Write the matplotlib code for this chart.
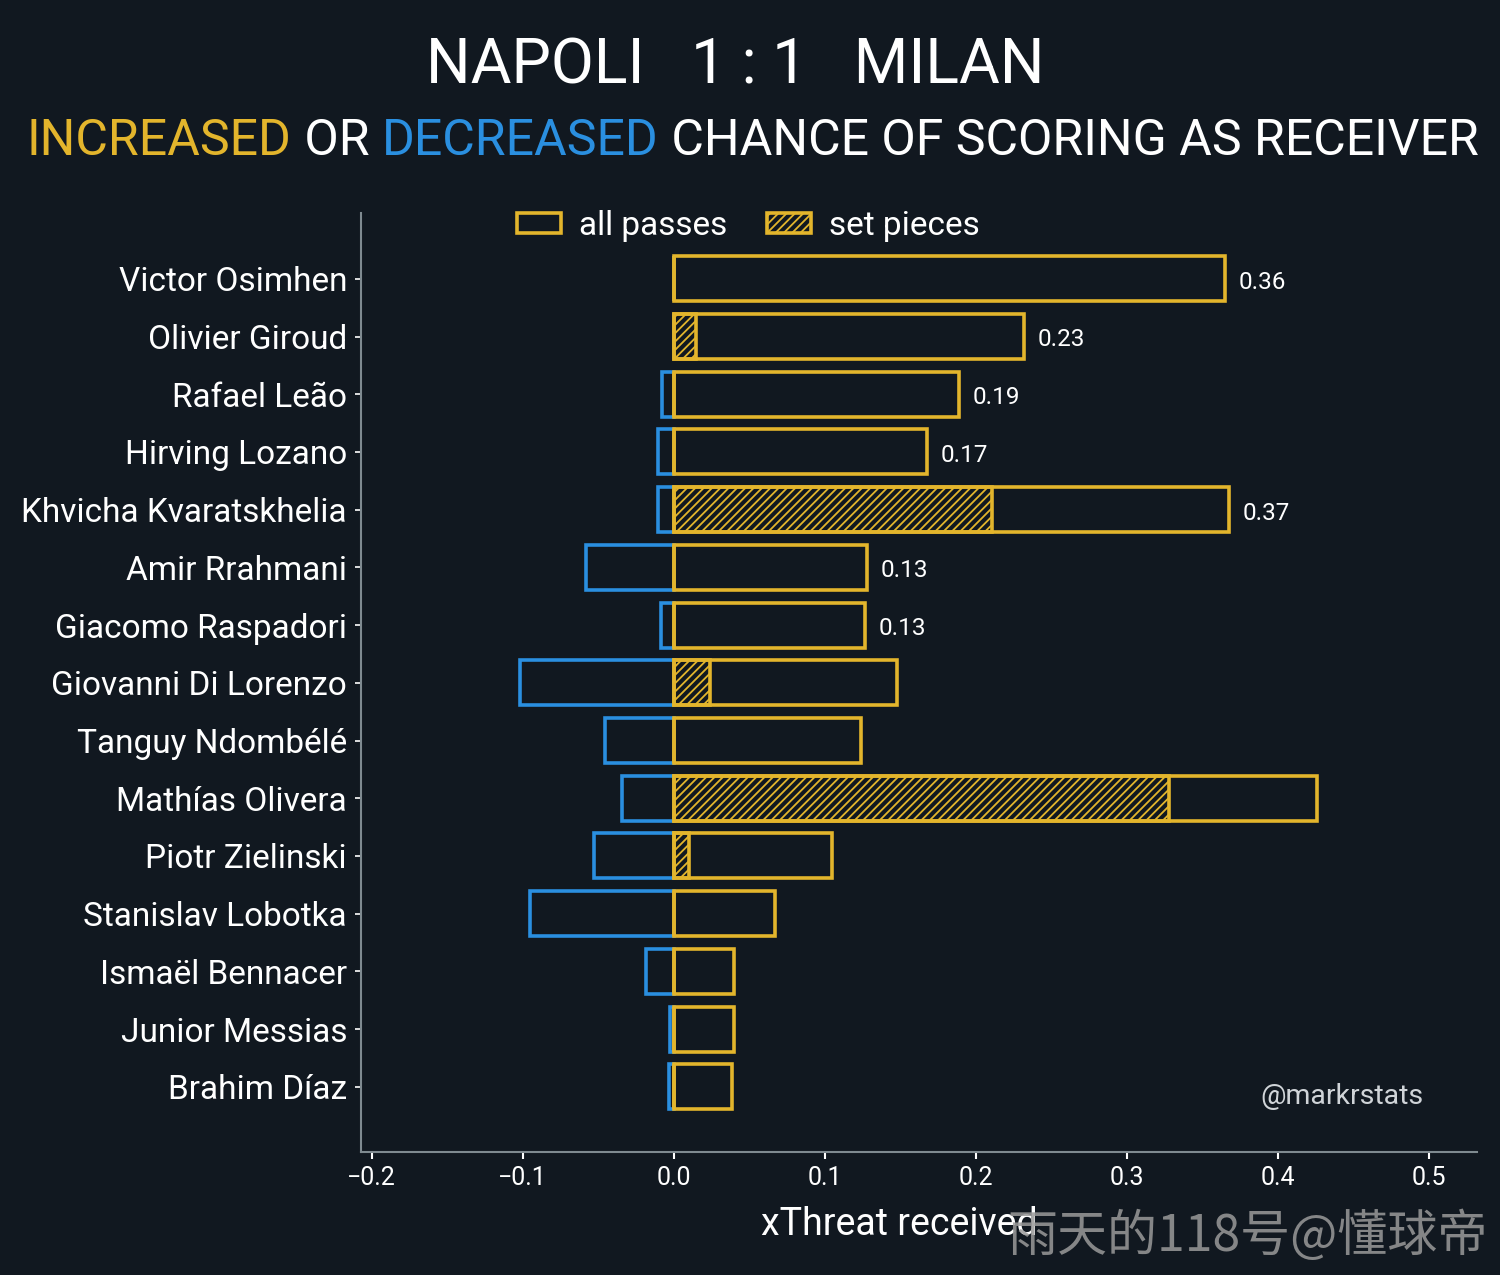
import numpy as np
import matplotlib
matplotlib.use('Agg')
import matplotlib.pyplot as plt
from matplotlib.patches import Patch

# Spieler (von oben nach unten)
players = ['Victor Osimhen', 'Olivier Giroud', 'Rafael Leão', 'Hirving Lozano',
           'Khvicha Kvaratskhelia', 'Amir Rrahmani', 'Giacomo Raspadori',
           'Giovanni Di Lorenzo', 'Tanguy Ndombélé', 'Mathías Olivera',
           'Piotr Zielinski', 'Stanislav Lobotka', 'Ismaël Bennacer',
           'Junior Messias', 'Brahim Díaz']

# xThreat erhalten: positiv / negativ / davon Standards
xt_pos = [0.365, 0.232, 0.189, 0.168, 0.368, 0.128, 0.127, 0.148, 0.124,
          0.426, 0.105, 0.067, 0.040, 0.040, 0.039]
xt_neg = [0.0, 0.0, -0.008, -0.0106, -0.0106, -0.058, -0.0086, -0.102, -0.0457,
          -0.0344, -0.053, -0.095, -0.018, -0.0026, -0.0033]
xt_setpiece = [0.0, 0.015, 0.0, 0.0, 0.211, 0.0, 0.0, 0.024, 0.0,
               0.328, 0.010, 0.0, 0.0, 0.0, 0.0]
bar_labels = ['0.36', '0.23', '0.19', '0.17', '0.37', '0.13', '0.13',
              '', '', '', '', '', '', '', '']

xticks = [-0.2, -0.1, 0.0, 0.1, 0.2, 0.3, 0.4, 0.5]

bg = '#111820'
yellow = '#e3b52c'
blue = '#2a8fe0'
spine_col = '#7f8a90'

plt.rcParams['font.family'] = ['Roboto', 'DejaVu Sans']
plt.rcParams['hatch.linewidth'] = 1.3

fig = plt.figure(figsize=(15, 12.75), dpi=100, facecolor=bg)
ax = fig.add_axes([361/1500, 1 - 1152/1275, (1477-361)/1500, (1152-213)/1275])
ax.set_facecolor(bg)

y = np.arange(len(players))
h = 0.78
lw = 2.6

ax.barh(y, xt_neg, height=h, facecolor='none', edgecolor=blue, linewidth=lw)
ax.barh(y, xt_setpiece, height=h, facecolor='none', edgecolor=yellow,
        linewidth=lw, hatch='////')
ax.barh(y, xt_pos, height=h, facecolor='none', edgecolor=yellow, linewidth=lw)

for i, lab in enumerate(bar_labels):
    if lab:
        ax.text(xt_pos[i] + 0.009, y[i] + 0.06, lab, color='white', fontsize=17.5,
                va='center', ha='left')

ax.set_yticks(y)
ax.set_yticklabels(players)
ax.set_xticks(xticks)
ax.set_xticklabels([f'{t:.1f}'.replace('-', '\u2212') for t in xticks])
ax.set_xlim(-0.207, 0.532)
ax.set_ylim(15.13, -1.14)

for s in ['top', 'right']:
    ax.spines[s].set_visible(False)
for s in ['left', 'bottom']:
    ax.spines[s].set_color(spine_col)
    ax.spines[s].set_linewidth(1.5)
ax.tick_params(axis='y', colors='white', labelsize=24, length=4, width=1.2, pad=6)
ax.tick_params(axis='x', colors='white', labelsize=18, length=5, width=1.5, pad=5)
ax.set_xlabel('xThreat received', color='white', fontsize=27, labelpad=12)
ax.xaxis.set_label_coords((899 - 361) / 1116, -0.057)

# Legende
handles = [Patch(facecolor='none', edgecolor=yellow, linewidth=lw, label='all passes'),
           Patch(facecolor='none', edgecolor=yellow, linewidth=lw, hatch='////',
                 label='set pieces')]
fig.legend(handles=handles, loc='center', bbox_to_anchor=(0.499, 1 - 226/1275),
           ncol=2, frameon=False, fontsize=24, labelcolor='white',
           handlelength=1.3, handleheight=0.55, handletextpad=0.55, columnspacing=1.2)

# Titel
fig.text(0.49, 1 - 67/1275, 'NAPOLI   1 : 1   MILAN', color='white', fontsize=45,
         ha='center', va='center')

# Untertitel mehrfarbig: jedes Stueck an das vorherige anhaengen
parts = [('INCREASED', yellow), (' OR ', 'white'), ('DECREASED', blue),
         (' CHANCE OF SCORING AS RECEIVER', 'white')]
prev = fig.text(27/1500, 1 - 155/1275, parts[0][0], color=parts[0][1], fontsize=36,
                ha='left', va='baseline')
for txt, col in parts[1:]:
    prev = ax.annotate(txt, xy=(1, 0), xycoords=prev, color=col, fontsize=36,
                       ha='left', va='bottom', annotation_clip=False)

# Quelle
ax.text(1260/1500, 1 - 1097/1275, '@markrstats', transform=fig.transFigure,
        color='#d0d4d8', fontsize=20.5, ha='left', va='center')

# Wasserzeichen
fig.text(1488/1500, 1 - 1237/1275, '雨天的118号@懂球帝', color='#9a9a9a', alpha=0.85,
         fontsize=36, ha='right', va='center',
         family=['Noto Sans CJK SC', 'DejaVu Sans'])

fig.savefig('out.png', dpi=100, facecolor=bg)
